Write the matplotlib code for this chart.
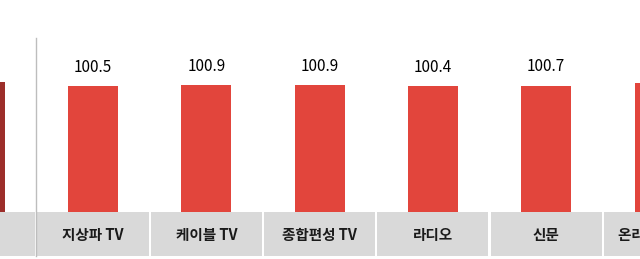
import matplotlib
matplotlib.use("Agg")
import matplotlib.pyplot as plt
import matplotlib.transforms as mtransforms
from matplotlib.patches import Rectangle
from matplotlib.lines import Line2D

plt.rcParams['font.family'] = ['Noto Sans CJK KR', 'DejaVu Sans']

categories = ['전체', '지상파 TV', '케이블 TV', '종합편성 TV', '라디오', '신문', '온라인 동영상']
values = [103.6, 100.5, 100.9, 100.9, 100.4, 100.7, 102.7]
value_labels = ['103.6', '100.5', '100.9', '100.9', '100.4', '100.7', '102.7']
bar_colors = ['#9C2E2A', '#E2453C', '#E2453C', '#E2453C', '#E2453C', '#E2453C', '#E2453C']

W, H = 640, 259
fig = plt.figure(figsize=(W / 100, H / 100), dpi=100)
base_px = 212
ax = fig.add_axes([0, (H - base_px) / H, 1, base_px / H])

pitch = 113.3
x0 = -20.3
# pixel 0 and 640 mapped onto category index space
ax.set_xlim((0 - x0) / pitch, (W - x0) / pitch)
ax.set_ylim(0, base_px / (126 / 100.5))
ax.axis('off')

xs = list(range(len(categories)))
ax.bar(xs, values, width=50 / pitch, color=bar_colors, zorder=2)

for x, v, lab in zip(xs, values, value_labels):
    ax.annotate(lab, (x, v), xytext=(0, 7.5), textcoords='offset points',
                ha='center', va='bottom', fontsize=11, color='black',
                annotation_clip=False)

# grey label boxes below the axis
trans = mtransforms.blended_transform_factory(ax.transData, fig.transFigure)
box_w = 111 / pitch
for x, cat in zip(xs, categories):
    ax.add_patch(Rectangle((x - box_w / 2, 3 / H), box_w, 44 / H,
                           transform=trans, facecolor='#D9D9D9',
                           edgecolor='none', clip_on=False))
    ax.text(x, (H - 235) / H, cat, transform=trans, ha='center', va='center',
            fontsize=10.5, fontweight='bold', color='#1a1a1a', clip_on=False)

# separator between total and media groups
fig.add_artist(Line2D([0.5, 0.5], [3 / H, (H - 38) / H], transform=trans,
                      color='#BDBDBD', linewidth=1))

fig.savefig('out.png', dpi=100)
